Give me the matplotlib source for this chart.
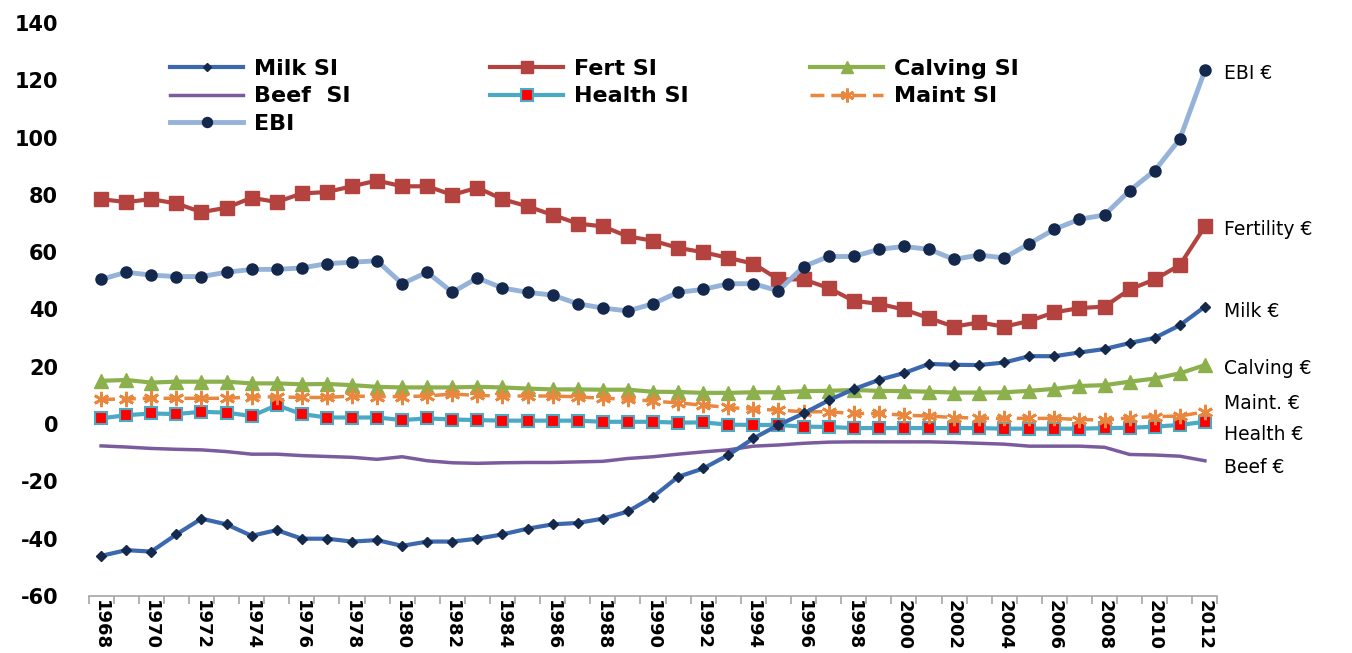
import matplotlib
matplotlib.use("Agg")
import matplotlib.pyplot as plt
import numpy as np

plt.rcParams['axes.unicode_minus'] = False

# Irish EBI sub-index trends, 1968-2012
years = list(range(1968, 2013))

milk_si = [-46, -44, -44.5, -38.5, -33, -35, -39, -37, -40, -40,
           -41, -40.5, -42.5, -41, -41, -40, -38.5, -36.5, -35, -34.5,
           -33, -30.5, -25.4, -18.4, -15.5, -10.8, -5, -0.3, 3.7, 8.3,
           12.2, 15.4, 17.8, 21, 20.7, 20.6, 21.5, 23.7, 23.7, 25,
           26.2, 28.3, 30.1, 34.5, 41]
fert_si = [78.5, 77.5, 78.5, 77, 74, 75.5, 79, 77.5, 80.5, 81,
           83, 85, 83, 83, 80, 82.5, 78.5, 76, 73, 70,
           69, 65.5, 64, 61.5, 60, 58, 56, 50.5, 50.5, 47.5,
           43, 42, 40, 37, 34, 35.5, 34, 36, 39, 40.5,
           41, 47, 50.5, 55.5, 69]
calving_si = [15.1, 15.4, 14.5, 14.8, 14.8, 14.8, 14.2, 14.2, 13.9, 14,
              13.6, 13, 12.8, 12.8, 12.8, 13, 12.8, 12.4, 12.1, 12.1,
              12, 12, 11.3, 11.2, 10.9, 10.9, 11.1, 11.1, 11.5, 11.6,
              11.9, 11.6, 11.5, 11.3, 11, 11, 11.1, 11.6, 12.3, 13.3,
              13.6, 14.8, 15.9, 17.7, 20.6]
beef_si = [-7.6, -8, -8.5, -8.8, -9, -9.6, -10.5, -10.5, -11, -11.3,
           -11.6, -12.3, -11.4, -12.8, -13.5, -13.7, -13.5, -13.4, -13.4, -13.2,
           -13, -12, -11.4, -10.5, -9.7, -9, -7.7, -7.3, -6.7, -6.3,
           -6.2, -6.2, -6.2, -6.2, -6.4, -6.7, -7, -7.7, -7.7, -7.7,
           -8.1, -10.6, -10.8, -11.2, -12.8]
health_si = [2, 3.1, 3.7, 3.5, 4.3, 4, 2.8, 6.6, 3.5, 2.3,
             2.3, 2.3, 1.4, 2, 1.6, 1.4, 1.2, 1.2, 1.2, 1.2,
             0.8, 0.8, 0.8, 0.5, 0.6, -0.2, -0.3, -0.3, -0.9, -1,
             -1.4, -1.4, -1.4, -1.4, -1.4, -1.4, -1.6, -1.6, -1.6, -1.6,
             -1.4, -1.3, -0.9, -0.3, 0.8]
maint_si = [8.6, 8.8, 9, 9, 9, 9, 9.5, 9.5, 9.3, 9.3,
            9.8, 9.6, 9.6, 9.8, 10.5, 10, 9.8, 9.8, 9.8, 9.5,
            9, 8.7, 8, 7.4, 6.6, 5.8, 5.2, 4.9, 4.3, 4.3,
            3.7, 3.7, 3.1, 2.8, 2.3, 2.1, 2, 2, 2, 1.6,
            1.4, 2.2, 2.6, 2.8, 4.3]
ebi = [50.5, 53, 52, 51.5, 51.5, 53, 54, 54, 54.5, 56,
       56.5, 57, 49, 53, 46, 51, 47.5, 46, 45, 42,
       40.5, 39.5, 42, 46, 47, 49, 49, 46.5, 55, 58.5,
       58.5, 61, 62, 61, 57.5, 59, 58, 63, 68, 71.5,
       73, 81.5, 88.5, 99.5, 123.5]

end_labels = ["EBI €", "Fertility €", "Milk €", "Calving €", "Maint. €", "Health €", "Beef €"]
end_label_y = [122.5, 68, 39.4, 19.5, 7.3, -3.8, -15]

fig = plt.figure(figsize=(13.52, 6.53), dpi=100)
ax = fig.add_axes([0.0655, 0.0873, 0.835, 0.8775])

l_milk, = ax.plot(years, milk_si, color='#3B68AE', lw=3, marker='D', ms=5,
                  mfc='#15294D', mec='#15294D', label='Milk SI', zorder=5)
l_fert, = ax.plot(years, fert_si, color='#B4423F', lw=3, marker='s', ms=10,
                  label='Fert SI', zorder=4)
l_calv, = ax.plot(years, calving_si, color='#8CB04C', lw=3, marker='^', ms=10,
                  label='Calving SI', zorder=4)
l_beef, = ax.plot(years, beef_si, color='#7A5C9E', lw=2.5, label='Beef  SI', zorder=3)
l_health, = ax.plot(years, health_si, color='#4BA9C3', lw=3, marker='s', ms=9,
                    mfc='#FF0000', mec='#4BA9C3', mew=1.5, label='Health SI', zorder=4)
l_maint, = ax.plot(years, maint_si, color='#E8873D', lw=2.5, ls=(0, (4, 2)),
                   marker=(6, 2, 0), ms=11, mew=2, label='Maint SI', zorder=4)
l_ebi, = ax.plot(years, ebi, color='#95B2D8', lw=3.5, marker='o', ms=8,
                 mfc='#14284D', mec='#14284D', label='EBI', zorder=4)

for txt, yv in zip(end_labels, end_label_y):
    ax.text(2012.75, yv, txt, fontsize=13.5, va='center', ha='left', clip_on=False)

ax.set_xlim(1967.5, 2012.5)
ax.set_ylim(-60, 140)
ax.set_yticks(np.arange(-60, 141, 20))
ax.set_xticks(years[::2])
ax.set_xticks(np.arange(1967.5, 2013, 1), minor=True)
ax.tick_params(axis='x', which='major', length=0, labelsize=13, labelrotation=270, pad=3)
ax.tick_params(axis='x', which='minor', length=6, color='#A6A6A6', width=1.2)
ax.tick_params(axis='y', length=0, labelsize=15, pad=22)
for lab in ax.get_xticklabels() + ax.get_yticklabels():
    lab.set_fontweight('bold')

for side in ['top', 'right', 'left']:
    ax.spines[side].set_visible(False)
ax.spines['bottom'].set_color('#A6A6A6')
ax.spines['bottom'].set_linewidth(1.2)

# legend in three columns, each drawn as its own legend to get even spacing
cols = [[l_milk, l_beef, l_ebi], [l_fert, l_health], [l_calv, l_maint]]
col_x = [170, 490, 810]
for handles, xpx in zip(cols, col_x):
    leg = fig.legend(handles=handles, loc='upper left',
                     bbox_to_anchor=(xpx / 1352, 1 - 59 / 653),
                     frameon=False, borderpad=0, borderaxespad=0,
                     handlelength=3.3, handletextpad=0.5, labelspacing=0.33,
                     prop={'weight': 'bold', 'size': 16}, markerscale=0.9)

fig.savefig("out.png", dpi=100)
